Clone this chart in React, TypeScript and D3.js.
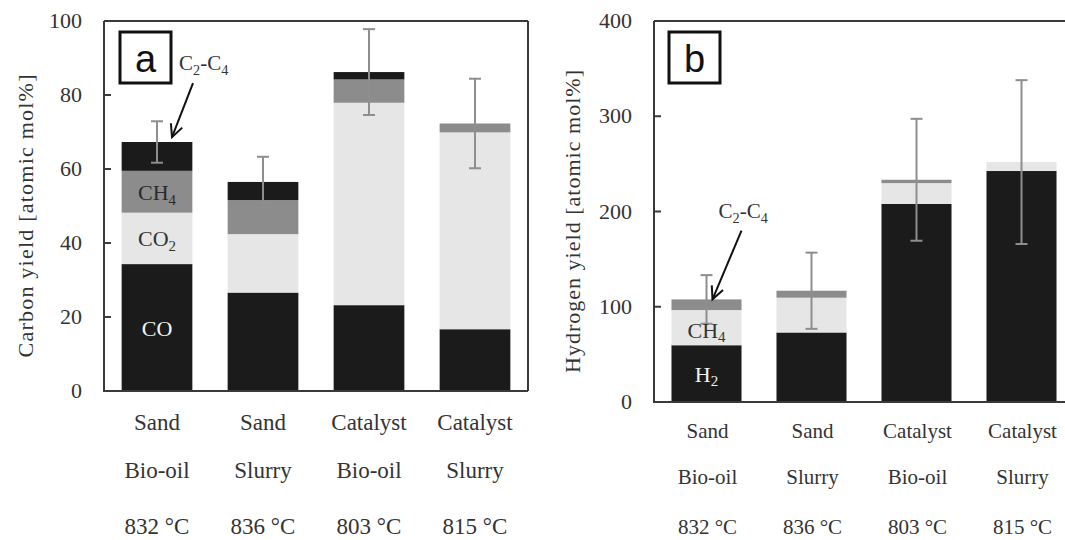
import React from 'react';
import * as d3 from 'd3';

// ---- data ----
const categories = ['Sand Bio-oil', 'Sand Slurry', 'Catalyst Bio-oil', 'Catalyst Slurry'];
const labelRow1 = ['Sand', 'Sand', 'Catalyst', 'Catalyst'];
const labelRow2 = ['Bio-oil', 'Slurry', 'Bio-oil', 'Slurry'];
const labelRow3 = ['832 °C', '836 °C', '803 °C', '815 °C'];

const carbonCO = [34.3, 26.6, 23.2, 16.7];
const carbonCO2 = [13.9, 15.8, 54.7, 53.2];
const carbonCH4 = [11.3, 9.2, 6.3, 2.4];
const carbonC2C4 = [7.8, 4.9, 2.0, 0];
const carbonErr = [5.6, 6.8, 11.6, 12.1];
const carbonTicks = [0, 20, 40, 60, 80, 100];

const hydrogenH2 = [59.6, 73.0, 208.0, 242.5];
const hydrogenCH4 = [36.9, 36.5, 21.8, 9.4];
const hydrogenC2C4 = [11.2, 7.3, 3.5, 0];
const hydrogenErr = [25.5, 40, 64, 86];
const hydrogenTicks = [0, 100, 200, 300, 400];

const BLACK = '#1b1b1b';
const LIGHT = '#e6e6e6';
const MID = '#8c8c8c';
const ERR = '#8e8e8e';
const AXIS = '#3a3a3a';
const TEXT = '#333';
const SERIF = '"Liberation Serif", "Times New Roman", serif';
const SANS = '"Liberation Sans", Arial, sans-serif';

type Series = { key: string; values: number[]; color: string };

// formula like CO2 / CH4 / H2 (one subscript at end)
function Formula({ base, sub, size }: { base: string; sub: string; size: number }) {
  return (
    <>
      {base}
      <tspan dy={size * 0.22} fontSize={size * 0.68}>{sub}</tspan>
    </>
  );
}

// C2-C4
function C2C4({ size }: { size: number }) {
  const d = size * 0.22;
  const s = size * 0.68;
  return (
    <>
      C
      <tspan dy={d} fontSize={s}>2</tspan>
      <tspan dy={-d}>-C</tspan>
      <tspan dy={d} fontSize={s}>4</tspan>
    </>
  );
}

function Panel(props: {
  left: number; right: number; top: number; bottom: number;
  yMax: number; ticks: number[]; series: Series[]; err: number[];
  title: string; titleX: number; titleLen: number; tickRight: number;
  letter: string; box: [number, number, number, number];
  labelFont: number; labelYs: number[]; labelShift: number; drawRight: boolean;
  children?: (x: d3.ScaleBand<string>, y: d3.ScaleLinear<number, number>) => React.ReactNode;
}) {
  const { left, right, top, bottom } = props;
  const x = d3.scaleBand<string>().domain(categories).range([left, right]).paddingInner(0.333).paddingOuter(0.1665);
  const y = d3.scaleLinear().domain([0, props.yMax]).range([bottom, top]);
  const rows = categories.map((c, i) => {
    const o: any = { cat: c };
    props.series.forEach(s => (o[s.key] = s.values[i]));
    return o;
  });
  const stack = d3.stack<any>().keys(props.series.map(s => s.key))(rows);
  const totals = rows.map(r => props.series.reduce((a, s) => a + r[s.key], 0));
  const bw = x.bandwidth();
  return (
    <g>
      {stack.map((layer, li) => (
        <g key={layer.key} fill={props.series[li].color}>
          {layer.map((d, i) => (
            d[1] - d[0] > 0 ? (
              <rect key={i} x={x(categories[i])!} width={bw} y={y(d[1])} height={y(d[0]) - y(d[1])} />
            ) : null
          ))}
        </g>
      ))}
      {/* error bars */}
      {totals.map((t, i) => {
        const cx = x(categories[i])! + bw / 2;
        const y1 = y(t + props.err[i]);
        const y0 = y(t - props.err[i]);
        return (
          <g key={i} stroke={ERR} strokeWidth={2}>
            <line x1={cx} x2={cx} y1={y1} y2={y0} />
            <line x1={cx - 6} x2={cx + 6} y1={y1} y2={y1} />
            <line x1={cx - 6} x2={cx + 6} y1={y0} y2={y0} />
          </g>
        );
      })}
      {/* frame */}
      <g stroke={AXIS} strokeWidth={2} fill="none">
        <line x1={left} x2={left} y1={top} y2={bottom} />
        <line x1={left} x2={right} y1={top} y2={top} />
        <line x1={left - 1} x2={right} y1={bottom} y2={bottom} />
        {props.drawRight && <line x1={right} x2={right} y1={top} y2={bottom} />}
        {props.ticks.map(t => (
          <line key={t} x1={left} x2={left + 7} y1={y(t)} y2={y(t)} />
        ))}
      </g>
      {props.ticks.map(t => (
        <text key={t} x={props.tickRight} y={y(t) + 7} textAnchor="end" fontFamily={SERIF} fontSize={22} fill={TEXT}>{t}</text>
      ))}
      <text transform={`translate(${props.titleX},${(top + bottom) / 2 + 10}) rotate(-90)`} textAnchor="middle" dominantBaseline="central"
        fontFamily={SERIF} fontSize={22} fill={TEXT} textLength={props.titleLen} lengthAdjust="spacing">{props.title}</text>
      {/* category labels */}
      {[labelRow1, labelRow2, labelRow3].map((row, ri) => (
        <g key={ri}>
          {row.map((lab, i) => (
            <text key={i} x={x(categories[i])! + bw / 2 + props.labelShift} y={props.labelYs[ri]} textAnchor="middle"
              fontFamily={SERIF} fontSize={props.labelFont} fill={TEXT}>{lab}</text>
          ))}
        </g>
      ))}
      {/* panel letter */}
      <rect x={props.box[0]} y={props.box[1]} width={props.box[2]} height={props.box[3]} fill="#fff" stroke="#111" strokeWidth={3} />
      <text x={props.box[0] + props.box[2] / 2} y={props.box[1] + props.box[3] / 2 + 1} textAnchor="middle" dominantBaseline="central"
        fontFamily={SANS} fontSize={38} fill="#111">{props.letter}</text>
      {props.children && props.children(x, y)}
    </g>
  );
}

function Arrow({ x1, y1, x2, y2 }: { x1: number; y1: number; x2: number; y2: number }) {
  const a = Math.atan2(y2 - y1, x2 - x1);
  const L = 14, s = 0.45;
  const p1 = [x2 - L * Math.cos(a - s), y2 - L * Math.sin(a - s)];
  const p2 = [x2 - L * Math.cos(a + s), y2 - L * Math.sin(a + s)];
  return (
    <g stroke="#111" strokeWidth={2} fill="none">
      <line x1={x1} y1={y1} x2={x2} y2={y2} />
      <polyline points={`${p1[0]},${p1[1]} ${x2},${y2} ${p2[0]},${p2[1]}`} />
    </g>
  );
}

export default function App() {
  const carbonSeries: Series[] = [
    { key: 'CO', values: carbonCO, color: BLACK },
    { key: 'CO2', values: carbonCO2, color: LIGHT },
    { key: 'CH4', values: carbonCH4, color: MID },
    { key: 'C2C4', values: carbonC2C4, color: BLACK },
  ];
  const hydrogenSeries: Series[] = [
    { key: 'H2', values: hydrogenH2, color: BLACK },
    { key: 'CH4', values: hydrogenCH4, color: LIGHT },
    { key: 'C2C4', values: hydrogenC2C4, color: MID },
  ];
  return (
    <svg width={1065} height={540} style={{ position: 'absolute', left: 0, top: 0, background: '#fff' }}>
      <rect width={1065} height={540} fill="#fff" />
      <Panel left={104} right={528} top={21} bottom={391} yMax={100} ticks={carbonTicks}
        series={carbonSeries} err={carbonErr} title="Carbon yield [atomic mol%]" titleX={25} titleLen={283}
        tickRight={82} letter="a" box={[120, 32, 51, 51]} labelFont={23} labelYs={[430, 478, 534]} labelShift={0} drawRight={true}>
        {(x, y) => {
          const c0 = x(categories[0])! + x.bandwidth() / 2;
          return (
            <g>
              <text x={c0} y={y(carbonCO[0] / 2) + 8} textAnchor="middle" fontFamily={SERIF} fontSize={22} fill="#f4f4f4">CO</text>
              <text x={c0} y={y(carbonCO[0] + carbonCO2[0] / 2) + 8} textAnchor="middle" fontFamily={SERIF} fontSize={22} fill="#333">
                <Formula base="CO" sub="2" size={22} />
              </text>
              <text x={c0} y={y(carbonCO[0] + carbonCO2[0] + carbonCH4[0] / 2) + 8} textAnchor="middle" fontFamily={SERIF} fontSize={22} fill="#2a2a2a">
                <Formula base="CH" sub="4" size={22} />
              </text>
              <text x={c0 + 22} y={y(86.7)} fontFamily={SERIF} fontSize={21} fill="#333">
                <C2C4 size={21} />
              </text>
              <Arrow x1={c0 + 36} y1={y(83.2)} x2={c0 + 15} y2={y(68.6)} />
            </g>
          );
        }}
      </Panel>
      <Panel left={654} right={1074} top={21} bottom={402} yMax={400} ticks={hydrogenTicks}
        series={hydrogenSeries} err={hydrogenErr} title="Hydrogen yield [atomic mol%]" titleX={572} titleLen={303}
        tickRight={632} letter="b" box={[669, 32, 51, 51]} labelFont={21} labelYs={[438, 484, 534]} labelShift={1} drawRight={false}>
        {(x, y) => {
          const c0 = x(categories[0])! + x.bandwidth() / 2;
          return (
            <g>
              <text x={c0} y={y(hydrogenH2[0] / 2) + 8} textAnchor="middle" fontFamily={SERIF} fontSize={22} fill="#f4f4f4">
                <Formula base="H" sub="2" size={22} />
              </text>
              <text x={c0} y={y(hydrogenH2[0] + hydrogenCH4[0] / 2) + 10} textAnchor="middle" fontFamily={SERIF} fontSize={22} fill="#333">
                <Formula base="CH" sub="4" size={22} />
              </text>
              <text x={c0 + 12} y={y(193)} fontFamily={SERIF} fontSize={21} fill="#333">
                <C2C4 size={21} />
              </text>
              <Arrow x1={c0 + 35} y1={y(180)} x2={c0 + 6} y2={y(107.8)} />
            </g>
          );
        }}
      </Panel>
    </svg>
  );
}
